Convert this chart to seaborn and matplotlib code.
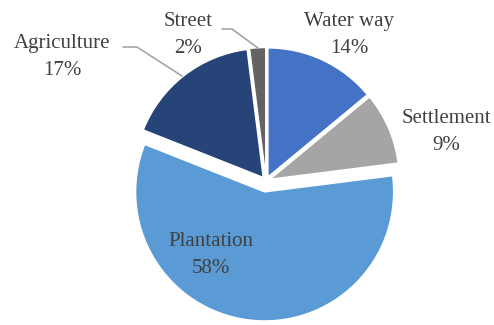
import matplotlib
matplotlib.use("Agg")
import matplotlib.pyplot as plt
import seaborn as sns

categories = ["Water way", "Settlement", "Plantation", "Agriculture", "Street"]
values = [14, 9, 58, 17, 2]
pct_labels = ["14%", "9%", "58%", "17%", "2%"]
colors = ["#4472C4", "#A5A5A5", "#5B9BD5", "#264478", "#636363"]
explode_px = [4.5, 4.5, 11.0, 4.5, 4.5]

sns.set_style("white")
plt.rcParams["font.family"] = ["Liberation Serif", "DejaVu Serif"]

W, H = 494, 325
fig = plt.figure(figsize=(W / 100, H / 100), dpi=100)
ax = fig.add_axes([0, 0, 1, 1])
ax.set_xlim(0, W)
ax.set_ylim(0, H)
ax.set_aspect("equal")
ax.axis("off")

cx, cy, r = 266, H - 181, 129
ax.pie(values, colors=colors, startangle=90, counterclock=False,
       explode=explode_px, center=(cx, cy), radius=r,
       wedgeprops=dict(edgecolor="white", linewidth=1.0))
ax.set_xlim(0, W)
ax.set_ylim(0, H)

# label positions (pixels from top-left)
label_pos = [(349, 35), (446, 132), (211, 255), (62, 57), (188, 35)]
txt_color = "#404040"
for name, pct, (x, y) in zip(categories, pct_labels, label_pos):
    ax.text(x, H - y, f"{name}\n{pct}", ha="center", va="center",
            fontsize=15, color=txt_color, linespacing=1.55)

# leader lines
line_color = "#A6A6A6"
ax.plot([222, 232, 258], [H - 29, H - 29, H - 48], color=line_color, lw=1.2)
ax.plot([123, 137, 182], [H - 47, H - 47, H - 76], color=line_color, lw=1.2)

fig.savefig("out.png", dpi=100)
